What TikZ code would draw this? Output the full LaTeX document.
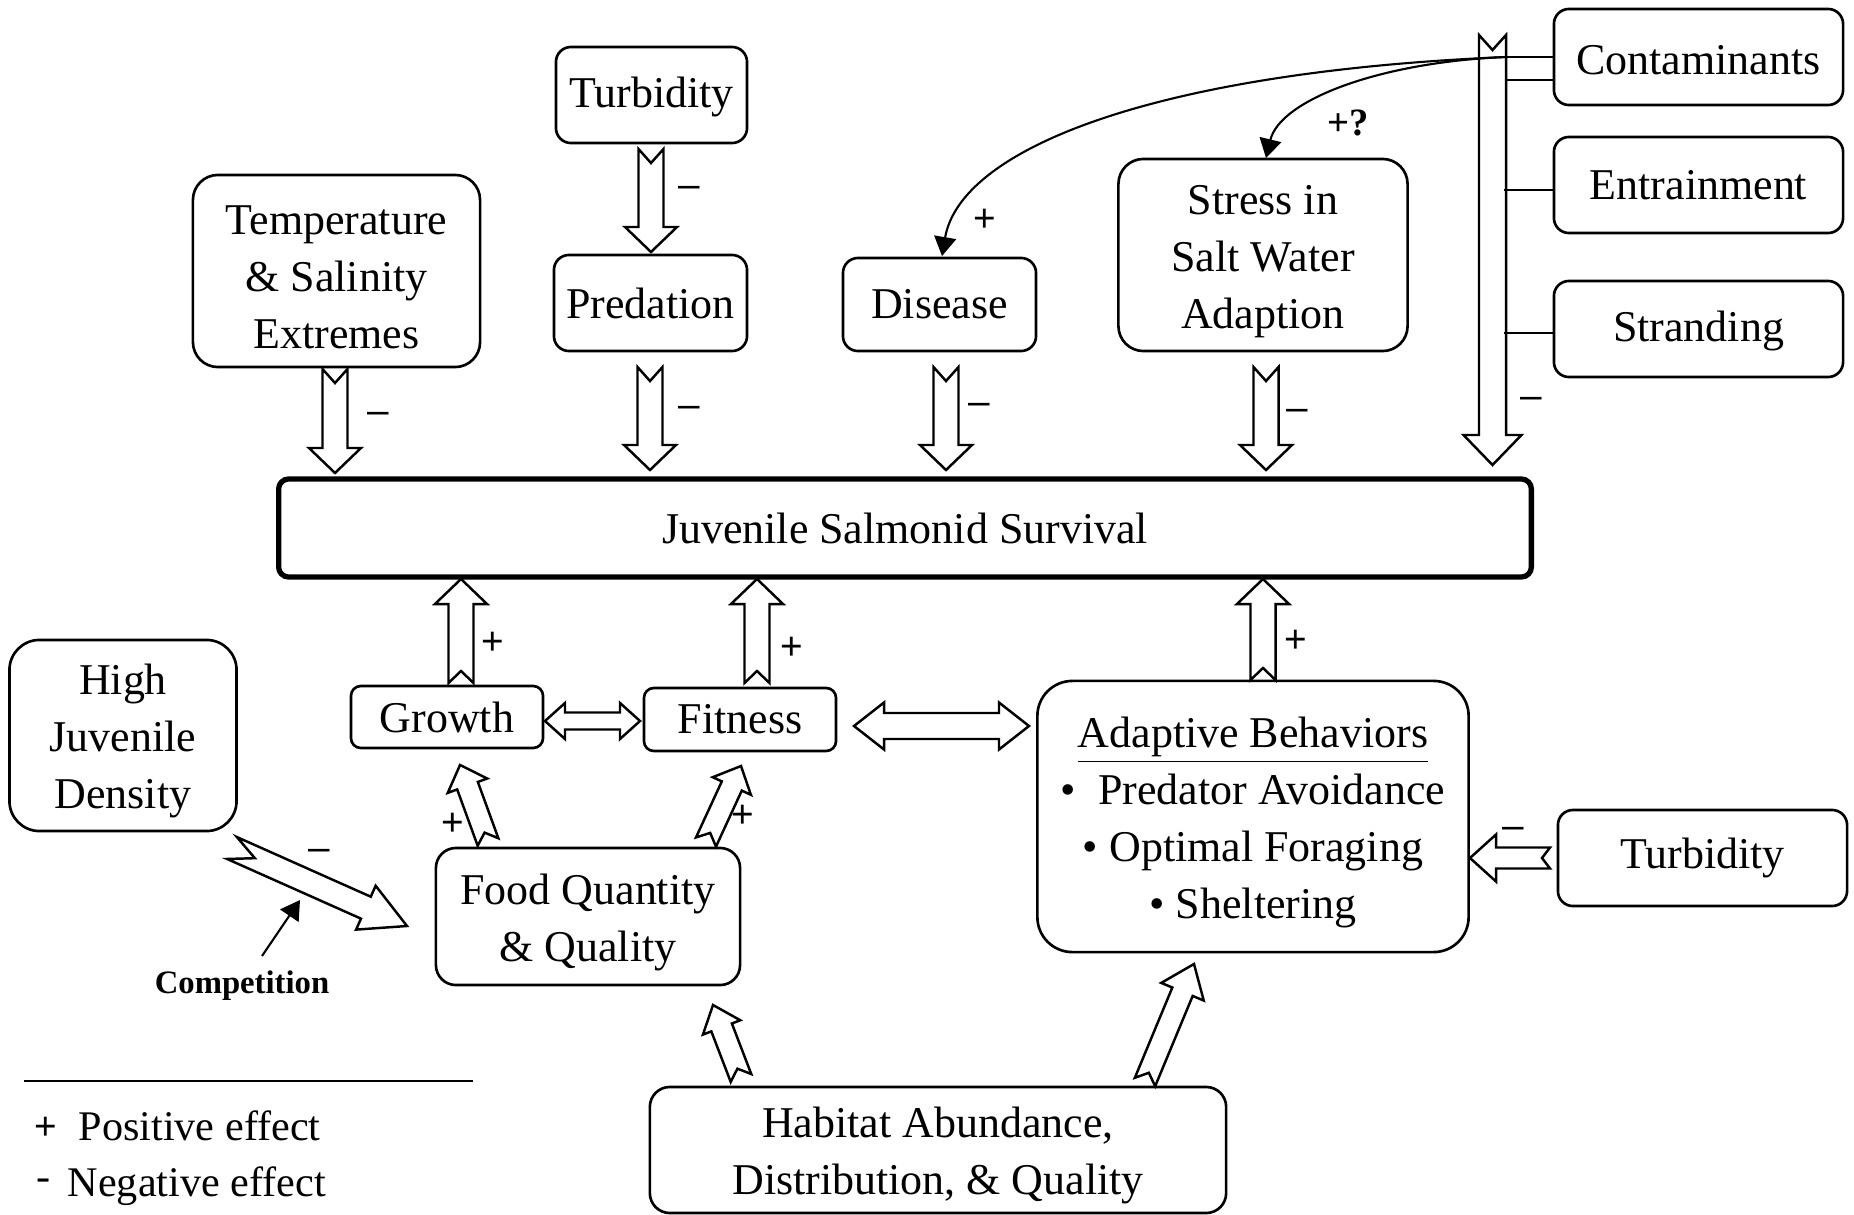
\documentclass[tikz,border=0pt]{standalone}
\usepackage{fontspec}
\setmainfont{Liberation Serif}
\newfontfamily\signfont{Liberation Sans}
\usetikzlibrary{calc,arrows.meta}

% hollow block arrow with a notched tail:
% #1 from, #2 to, #3 half shaft width, #4 half head width, #5 head length, #6 notch depth, #7 notch offset
\newcommand\fatarrow[7]{%
  \draw[fat] ($(#1)!#3!90:(#2)$)
    -- ($(#2)!#5!(#1)!#3!90:(#2)$)
    -- ($(#2)!#5!(#1)!#4!90:(#2)$)
    -- (#2)
    -- ($(#2)!#5!(#1)!#4!-90:(#2)$)
    -- ($(#2)!#5!(#1)!#3!-90:(#2)$)
    -- ($(#1)!#3!-90:(#2)$)
    -- ($(#1)!#6!(#2)!#7!90:(#2)$)
    -- cycle;}
% hollow double-headed block arrow: #1, #2 ends, #3 half shaft, #4 half head, #5 head length
\newcommand\dblarrow[5]{%
  \draw[fat] (#1)
    -- ($(#1)!#5!(#2)!#4!90:(#2)$)
    -- ($(#1)!#5!(#2)!#3!90:(#2)$)
    -- ($(#2)!#5!(#1)!#3!90:(#2)$)
    -- ($(#2)!#5!(#1)!#4!90:(#2)$)
    -- (#2)
    -- ($(#2)!#5!(#1)!#4!-90:(#2)$)
    -- ($(#2)!#5!(#1)!#3!-90:(#2)$)
    -- ($(#1)!#5!(#2)!#3!-90:(#2)$)
    -- ($(#1)!#5!(#2)!#4!-90:(#2)$)
    -- cycle;}
% strut that lowers multi-line box text slightly
\newcommand\tstrut{\rule{0pt}{12pt}}
\newcommand\sstrut{\rule{0pt}{10pt}}

\tikzset{
  box/.style={draw, line width=0.75pt, rounded corners=0.15cm, align=center,
    inner sep=0pt, font=\fontsize{12.5}{16.2}\selectfont},
  fat/.style={draw, line width=0.7pt, fill=white, line join=miter},
  sign/.style={font=\signfont\fontsize{11}{13}\selectfont, inner sep=0pt},
  thinline/.style={line width=0.6pt},
  tri/.style={-{Triangle[length=0.19cm,width=0.22cm]}},
  txt/.style={inner sep=0pt, font=\fontsize{12}{15}\selectfont},
}

\begin{document}
\begin{tikzpicture}[x=0.01cm, y=-0.01cm]
\useasboundingbox (0,0) rectangle (1854,1215);

% ---- boxes ----
\node[box, minimum width=1.91cm, minimum height=0.96cm] (turbtop) at (651.5,95) {\sstrut Turbidity};
\node[box, minimum width=1.93cm, minimum height=0.96cm] (pred) at (650.5,303) {Predation};
\node[box, rounded corners=0.25cm, minimum width=2.87cm, minimum height=1.92cm] (temp) at (336.5,271)
  {\tstrut Temperature\\\& Salinity\\Extremes};
\node[box, minimum width=1.93cm, minimum height=0.93cm] (dis) at (939.5,304.5) {Disease};
\node[box, rounded corners=0.25cm, minimum width=2.89cm, minimum height=1.92cm] (stress) at (1263,255)
  {\tstrut Stress in\\Salt Water\\Adaption};
\node[box, minimum width=2.89cm, minimum height=0.96cm] (cont) at (1698.5,57) {\sstrut Contaminants};
\node[box, minimum width=2.89cm, minimum height=0.96cm] (entr) at (1698.5,185) {Entrainment};
\node[box, minimum width=2.89cm, minimum height=0.96cm] (strand) at (1698.5,329) {\sstrut Stranding};
\node[box, line width=1.5pt, rounded corners=0.1cm, minimum width=12.52cm, minimum height=0.98cm]
  (surv) at (905,528) {Juvenile Salmonid Survival};
\node[box, rounded corners=0.3cm, minimum width=2.27cm, minimum height=1.91cm] (high) at (123,735.5)
  {\tstrut High\\Juvenile\\Density};
\node[box, rounded corners=0.1cm, minimum width=1.92cm, minimum height=0.62cm] (growth) at (447,717) {Growth};
\node[box, rounded corners=0.1cm, minimum width=1.92cm, minimum height=0.63cm] (fit) at (740,719.5) {Fitness};
\node[box, rounded corners=0.35cm, minimum width=4.31cm, minimum height=2.71cm] (adapt) at (1253,816.5)
  {\tstrut\underline{Adaptive Behaviors}\\•\ \ Predator Avoidance\\• Optimal Foraging\\• Sheltering};
\node[box, minimum width=2.89cm, minimum height=0.96cm] (turbr) at (1702.5,858) {Turbidity};
\node[box, rounded corners=0.2cm, minimum width=3.04cm, minimum height=1.37cm] (food) at (588,916.5)
  {\tstrut Food Quantity\\\& Quality};
\node[box, rounded corners=0.2cm, minimum width=5.76cm, minimum height=1.26cm] (hab) at (938,1150)
  {\tstrut Habitat Abundance,\\Distribution, \& Quality};
\node[inner sep=0pt, font=\bfseries\fontsize{9.3}{11}\selectfont] (comp) at (242,986) {Competition};

% ---- arrow end points ----
\coordinate (a1s) at (335,369);    \coordinate (a1e) at (335,473);
\coordinate (a2s) at (651,149);    \coordinate (a2e) at (651,252);
\coordinate (a3s) at (650,367);    \coordinate (a3e) at (650,470);
\coordinate (a4s) at (946,367);    \coordinate (a4e) at (946,470);
\coordinate (a5s) at (1266,367);   \coordinate (a5e) at (1266,470);
\coordinate (a6s) at (1492.5,35);  \coordinate (a6e) at (1492.5,465);
\coordinate (u1s) at (461,683);    \coordinate (u1e) at (461,579);
\coordinate (u2s) at (757,683);    \coordinate (u2e) at (757,579);
\coordinate (u3s) at (1263,680);   \coordinate (u3e) at (1263,579);
\coordinate (d1a) at (545,721);    \coordinate (d1b) at (640,721);
\coordinate (d2a) at (854,726);    \coordinate (d2b) at (1029,726);
\coordinate (g1s) at (488,842);    \coordinate (g1e) at (460,765);
\coordinate (g2s) at (706,842);    \coordinate (g2e) at (741,766);
\coordinate (hs) at (232,848);     \coordinate (he) at (407,926);
\coordinate (h1s) at (741,1078);   \coordinate (h1e) at (713,1005);
\coordinate (h2s) at (1145,1082);  \coordinate (h2e) at (1194,964);
\coordinate (ts) at (1550,858);    \coordinate (te) at (1470,858);

% ---- negative effects from above ----
\fatarrow{a1s}{a1e}{0.125cm}{0.26cm}{0.25cm}{0.14cm}{0cm}
\fatarrow{a2s}{a2e}{0.125cm}{0.26cm}{0.25cm}{0.14cm}{0cm}
\fatarrow{a3s}{a3e}{0.125cm}{0.26cm}{0.25cm}{0.14cm}{0cm}
\fatarrow{a4s}{a4e}{0.125cm}{0.26cm}{0.25cm}{0.14cm}{0cm}
\fatarrow{a5s}{a5e}{0.125cm}{0.26cm}{0.25cm}{0.14cm}{0cm}
\fatarrow{a6s}{a6e}{0.135cm}{0.29cm}{0.30cm}{0.15cm}{0cm}

% contaminants, entrainment and stranding feed the long arrow
\coordinate (cj1) at (1506,57);
\coordinate (cj2) at (1506,80);
\coordinate (ej) at (1504,190);
\coordinate (sj) at (1504,333);
\coordinate (dtop) at (942,256);
\coordinate (stop) at (1266,158);
\draw[thinline] (cont.west) -- (cj1);
\draw[thinline] (cont.west |- cj2) -- (cj2);
\draw[thinline] (entr.west |- ej) -- (ej);
\draw[thinline] (strand.west |- sj) -- (sj);
\draw[thinline, tri] (cj1) .. controls (1150,72) and (960,150) .. (dtop);
\draw[thinline, tri] (cj1) .. controls (1380,62) and (1280,100) .. (stop);

% ---- positive effects into survival ----
\fatarrow{u1s}{u1e}{0.125cm}{0.26cm}{0.25cm}{0.12cm}{0cm}
\fatarrow{u2s}{u2e}{0.125cm}{0.26cm}{0.25cm}{0.12cm}{0cm}
\fatarrow{u3s}{u3e}{0.125cm}{0.26cm}{0.25cm}{0.12cm}{0cm}

% ---- two-way links ----
\dblarrow{d1a}{d1b}{0.085cm}{0.18cm}{0.2cm}
\dblarrow{d2a}{d2b}{0.13cm}{0.235cm}{0.3cm}

% ---- lower influences ----
\fatarrow{g1s}{g1e}{0.11cm}{0.21cm}{0.22cm}{0.1cm}{0cm}
\fatarrow{g2s}{g2e}{0.11cm}{0.21cm}{0.22cm}{0.1cm}{0cm}
\fatarrow{hs}{he}{0.12cm}{0.24cm}{0.45cm}{0.25cm}{0cm}
\fatarrow{h1s}{h1e}{0.11cm}{0.2cm}{0.24cm}{0.1cm}{0cm}
\fatarrow{h2s}{h2e}{0.11cm}{0.23cm}{0.3cm}{0.1cm}{0cm}
\fatarrow{ts}{te}{0.105cm}{0.235cm}{0.26cm}{0.08cm}{0cm}

% competition pointer
\coordinate (cpt) at (262,956);
\coordinate (cph) at (300,900);
\draw[thinline, tri] (cpt) -- (cph);

% ---- signs ----
\node[sign] (m1) at (378,418) {–};
\node[sign] (m2) at (689,192) {–};
\node[sign] (m3) at (689,412) {–};
\node[sign] (m4) at (979,409) {–};
\node[sign] (m5) at (1297,415) {–};
\node[sign] (m6) at (1531,403) {–};
\node[sign] (m7) at (319,855) {–};
\node[sign] (m8) at (1513,833) {–};
\node[sign] (p1) at (493,643) {+};
\node[sign] (p2) at (792,648) {+};
\node[sign] (p3) at (1296,641) {+};
\node[sign] (p4) at (453,824) {+};
\node[sign] (p5) at (743,816) {+};
\node[sign] (p6) at (985,220) {+};
\node[inner sep=0pt, font=\bfseries\fontsize{11}{13}\selectfont] (pq) at (1348,123) {+?};

% ---- legend ----
\draw[line width=0.7pt] (24,1081) -- (473,1081);
\node[sign, anchor=west, font=\signfont\fontsize{11}{13}\selectfont] (lplus) at (34,1128) {+};
\node[txt, anchor=west] (lpos) at (78,1126) {Positive effect};
\node[txt, anchor=west] (lminus) at (36,1185) {-};
\node[txt, anchor=west] (lneg) at (67,1186) {Negative effect};
\end{tikzpicture}
\end{document}
